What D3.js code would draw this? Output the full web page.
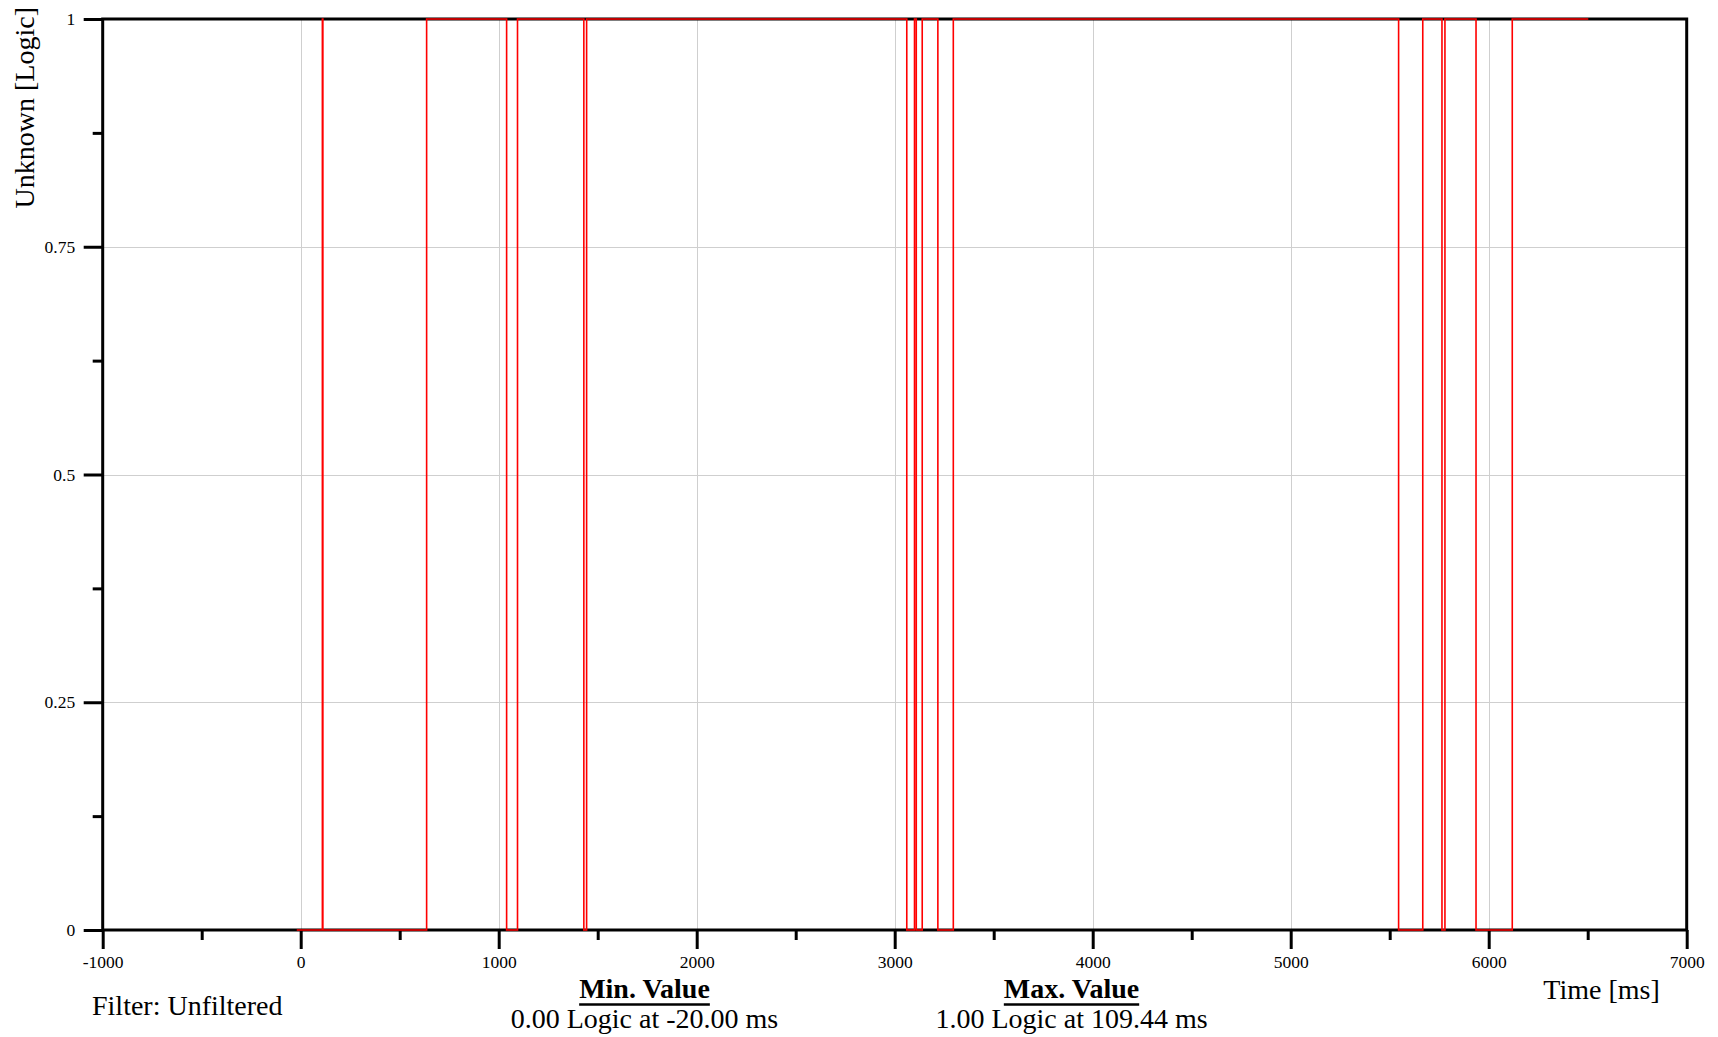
<!DOCTYPE html>
<html>
<head>
<meta charset="utf-8">
<script src="https://cdn.jsdelivr.net/npm/d3@7"></script>
<style>
  html, body { margin: 0; padding: 0; background: #fff; }
  svg { display: block; }
  text { font-family: "Liberation Serif", "Times New Roman", serif; fill: #000; }
</style>
</head>
<body>
<svg id="chart" width="1718" height="1037"></svg>
<script>
// ---- data ----
const xTickValues = [-1000, 0, 1000, 2000, 3000, 4000, 5000, 6000, 7000];
const xTickLabels = ["-1000", "0", "1000", "2000", "3000", "4000", "5000", "6000", "7000"];
const yTickValues = [0, 0.25, 0.5, 0.75, 1];
const yTickLabels = ["0", "0.25", "0.5", "0.75", "1"];
// signal transitions (step-after): time in ms, logic level
const signalTimes  = [-20, 109.44, 112, 636, 1040, 1095, 1430, 1444, 3061, 3100, 3109, 3139, 3218, 3296, 5545, 5667, 5764, 5779, 5936, 6119, 6503];
const signalValues = [0,   1,      0,   1,   0,    1,    0,    1,    0,    1,    0,    1,    0,    1,    0,    1,    0,    1,    0,    1,    1];
const xTitle = "Time [ms]";
const yTitle = "Unknown [Logic]";
const filterText = "Filter: Unfiltered";
const minTitle = "Min. Value", minText = "0.00 Logic at -20.00 ms";
const maxTitle = "Max. Value", maxText = "1.00 Logic at 109.44 ms";

// ---- layout ----
const L = 102.7, R = 1686.7, T = 19, B = 930;
const svg = d3.select("#chart");
const x = d3.scaleLinear().domain([-1000, 7000]).range([L, R]);
const y = d3.scaleLinear().domain([0, 1]).range([B, T]);

// grid
const grid = svg.append("g").attr("stroke", "#cfcfcf").attr("stroke-width", 1);
grid.selectAll("line.v").data(xTickValues.filter(v => v > -1000 && v < 7000)).join("line")
  .attr("x1", d => Math.round(x(d)) + 0.5).attr("x2", d => Math.round(x(d)) + 0.5)
  .attr("y1", T).attr("y2", B);
grid.selectAll("line.h").data(yTickValues.filter(v => v > 0 && v < 1)).join("line")
  .attr("y1", d => Math.round(y(d)) + 0.5).attr("y2", d => Math.round(y(d)) + 0.5)
  .attr("x1", L).attr("x2", R);

// frame
svg.append("rect").attr("x", L).attr("y", T).attr("width", R - L).attr("height", B - T)
  .attr("fill", "none").attr("stroke", "#000").attr("stroke-width", 3);

// x axis
const xMinor = d3.range(-500, 7000, 1000);
const gxMinor = svg.append("g").attr("transform", `translate(0,${B})`)
  .call(d3.axisBottom(x).tickValues(xMinor).tickSize(10).tickFormat(""));
const gx = svg.append("g").attr("transform", `translate(0,${B})`)
  .call(d3.axisBottom(x).tickValues(xTickValues).tickSize(19).tickPadding(6.5)
    .tickFormat((d, i) => xTickLabels[i]));
[gx, gxMinor].forEach(g => {
  g.select(".domain").remove();
  g.selectAll(".tick line").attr("stroke", "#000").attr("stroke-width", 3);
});
gx.selectAll(".tick text").attr("font-size", 17.5).attr("font-family", "Liberation Serif");

// y axis
const yMinor = [0.125, 0.375, 0.625, 0.875];
const gyMinor = svg.append("g").attr("transform", `translate(${L},0)`)
  .call(d3.axisLeft(y).tickValues(yMinor).tickSize(10).tickFormat(""));
const gy = svg.append("g").attr("transform", `translate(${L},0)`)
  .call(d3.axisLeft(y).tickValues(yTickValues).tickSize(19).tickPadding(8.5)
    .tickFormat((d, i) => yTickLabels[i]));
[gy, gyMinor].forEach(g => {
  g.select(".domain").remove();
  g.selectAll(".tick line").attr("stroke", "#000").attr("stroke-width", 3);
});
gy.selectAll(".tick text").attr("font-size", 17.5).attr("font-family", "Liberation Serif");

// signal
const pts = signalTimes.map((t, i) => [t, signalValues[i]]);
const line = d3.line().x(d => x(d[0])).y(d => y(d[1])).curve(d3.curveStepAfter);
svg.append("path").datum(pts).attr("d", line)
  .attr("fill", "none").attr("stroke", "#ff0000").attr("stroke-width", 1.6);

// titles
svg.append("text").attr("transform", `translate(34,7) rotate(-90)`)
  .attr("text-anchor", "end").attr("font-size", 28).text(yTitle);
svg.append("text").attr("x", 1601.5).attr("y", 999).attr("text-anchor", "middle")
  .attr("font-size", 28).text(xTitle);
svg.append("text").attr("x", 92).attr("y", 1015).attr("font-size", 28).text(filterText);

function statBlock(cx, title, body) {
  const t = svg.append("text").attr("x", cx).attr("y", 998).attr("text-anchor", "middle")
    .attr("font-size", 28).attr("font-weight", "bold").text(title);
  const w = t.node().getComputedTextLength();
  svg.append("line").attr("x1", cx - w / 2).attr("x2", cx + w / 2)
    .attr("y1", 1004.5).attr("y2", 1004.5).attr("stroke", "#000").attr("stroke-width", 2.5);
  svg.append("text").attr("x", cx).attr("y", 1028).attr("text-anchor", "middle")
    .attr("font-size", 28).text(body);
}
statBlock(644.5, minTitle, minText);
statBlock(1071.5, maxTitle, maxText);
</script>
</body>
</html>
